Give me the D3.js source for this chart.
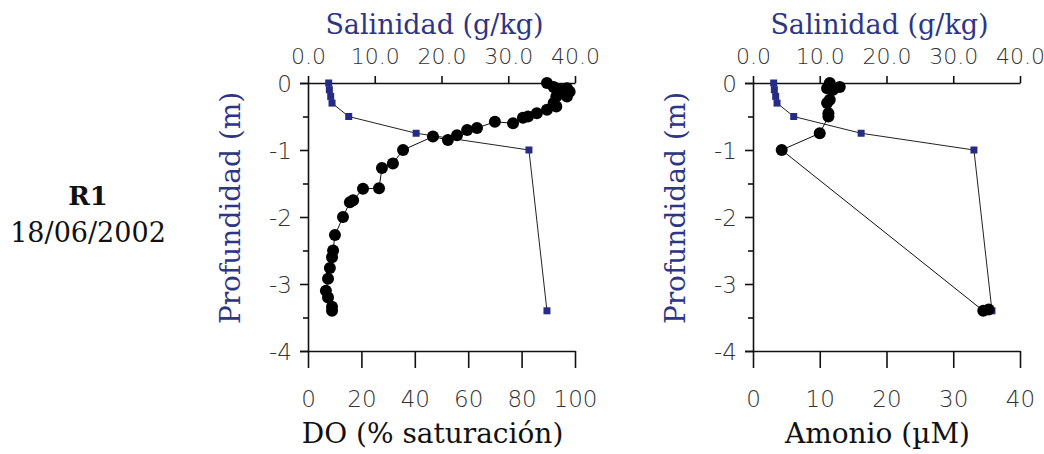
<!DOCTYPE html>
<html><head><meta charset="utf-8">
<script src="https://cdn.jsdelivr.net/npm/d3@7"></script>
<style>
html,body{margin:0;padding:0;background:#fff;}
svg{display:block;}
</style></head>
<body>
<svg id="chart" width="1044" height="454"></svg>
<script>
// ---- data ----
const stationLabel = "R1";
const dateLabel = "18/06/2002";
const salTitle = "Salinidad (g/kg)";
const depthTitle = "Profundidad (m)";
const doTitle = "DO (% saturación)";
const amTitle = "Amonio (µM)";

const salTicks = [0, 10, 20, 30, 40];
const doTicks = [0, 20, 40, 60, 80, 100];
const amTicks = [0, 10, 20, 30, 40];
const depthTicks = [0, -0.5, -1, -1.5, -2, -2.5, -3, -3.5, -4];

// salinity profile (same station, both panels)
const salDepth  = [0, -0.1, -0.2, -0.3, -0.5, -0.75, -1.0, -3.4];
const salValues = [3.1, 3.2, 3.4, 3.6, 6.1, 16.2, 33.1, 35.8];

// dissolved oxygen profile
const doDepth  = [0, -0.06, -0.1, -0.08, -0.13, -0.2, -0.2, -0.3, -0.35, -0.4, -0.45, -0.5, -0.52, -0.6, -0.58, -0.67, -0.7, -0.78, -0.85, -0.8, -1.0, -1.2, -1.27, -1.57, -1.58, -1.75, -1.78, -2.0, -2.27, -2.5, -2.6, -2.76, -2.92, -3.1, -3.2, -3.34, -3.4];
const doValues = [89.5, 92, 94.4, 97, 98, 97, 93, 92, 93, 89.5, 85.7, 82.4, 80.5, 76.8, 70, 63.3, 59.6, 55.8, 52.4, 46.8, 35.6, 31.8, 27.7, 26.6, 20.6, 16.9, 15.7, 13.1, 10.1, 9.4, 9.0, 8.2, 7.5, 6.7, 7.5, 9.0, 9.0];

// ammonium profile
const amDepth  = [0, -0.06, -0.1, -0.08, -0.25, -0.3, -0.45, -0.5, -0.75, -1.0, -3.4, -3.38];
const amValues = [11.5, 13.0, 12.0, 11.1, 11.5, 11.1, 11.3, 11.3, 10.0, 4.3, 34.5, 35.3];

// ---- drawing ----
const svg = d3.select("#chart");
const BLUE = "#2d3585";
const SERIF = "'DejaVu Serif', serif";
const SANS = "'DejaVu Sans', sans-serif";

svg.append("text").attr("x", 88).attr("y", 205).attr("text-anchor", "middle")
  .attr("font-family", SERIF).attr("font-weight", "bold").attr("font-size", 26)
  .attr("fill", "#111").text(stationLabel);
svg.append("text").attr("x", 88).attr("y", 242).attr("text-anchor", "middle")
  .attr("font-family", SERIF).attr("font-size", 27)
  .attr("fill", "#111").text(dateLabel);

function panel(x0, xMax, xTicks, depth, vals, xTitle) {
  const W = 267;
  const y = d3.scaleLinear().domain([0, -4]).range([83, 351]);
  const x = d3.scaleLinear().domain([0, xMax]).range([x0, x0 + W]);
  const xs = d3.scaleLinear().domain([0, 40]).range([x0, x0 + W]);
  const g = svg.append("g");

  // bottom axis
  const gb = g.append("g").attr("transform", `translate(0,${y(-4)})`)
    .call(d3.axisBottom(x).tickValues(xTicks).tickSize(17).tickSizeOuter(0).tickFormat(d => String(d)));
  gb.selectAll("text").attr("y", 56).attr("dy", null);

  // top axis (salinity)
  const gt = g.append("g").attr("transform", `translate(0,${y(0)})`)
    .call(d3.axisTop(xs).tickValues(salTicks).tickSize(7).tickSizeOuter(0).tickFormat(d3.format(".1f")));
  gt.selectAll("text").attr("y", -19).attr("dy", null);

  // left axis
  const gl = g.append("g").attr("transform", `translate(${x0},0)`)
    .call(d3.axisLeft(y).tickValues(depthTicks).tickSizeOuter(0)
      .tickSize(8).tickFormat(d => Number.isInteger(d) ? String(d) : ""));
  gl.selectAll(".tick line").attr("x2", d => Number.isInteger(d) ? -8 : -5);
  gl.selectAll("text").attr("x", -16).attr("dy", "0.36em");

  [gb, gt, gl].forEach(a => {
    a.selectAll("path,line").attr("stroke", "#111").attr("stroke-width", 1.6);
    a.selectAll("text").attr("font-family", SANS).attr("font-size", 23)
      .attr("font-weight", 200).attr("fill", "#333");
  });
  gt.selectAll("text").attr("font-size", 22);

  // titles
  g.append("text").attr("x", x0 + W / 2 - 7).attr("y", 34).attr("text-anchor", "middle")
    .attr("font-family", SERIF).attr("font-size", 27).attr("fill", BLUE).text(salTitle);
  g.append("text").attr("x", x0 + W / 2 - 9).attr("y", 443).attr("text-anchor", "middle")
    .attr("font-family", SERIF).attr("font-size", 28).attr("fill", "#111").text(xTitle);
  g.append("text").attr("transform", `translate(${x0 - 68},${208}) rotate(-90)`)
    .attr("text-anchor", "middle")
    .attr("font-family", SERIF).attr("font-size", 28).attr("fill", BLUE).text(depthTitle);

  // salinity series
  const salIdx = d3.range(salDepth.length);
  g.append("path").datum(salIdx)
    .attr("d", d3.line().x(i => xs(salValues[i])).y(i => y(salDepth[i])))
    .attr("fill", "none").attr("stroke", "#222").attr("stroke-width", 1);
  g.selectAll(".sq").data(salIdx).join("rect")
    .attr("x", i => xs(salValues[i]) - 3.5).attr("y", i => y(salDepth[i]) - 3.5)
    .attr("width", 7).attr("height", 7).attr("fill", "#262c86");

  // main series
  const idx = d3.range(depth.length);
  g.append("path").datum(idx)
    .attr("d", d3.line().x(i => x(vals[i])).y(i => y(depth[i])))
    .attr("fill", "none").attr("stroke", "#111").attr("stroke-width", 1);
  g.selectAll(".pt").data(idx).join("circle")
    .attr("cx", i => x(vals[i])).attr("cy", i => y(depth[i])).attr("r", 6)
    .attr("fill", "#000");
}

panel(308, 100, doTicks, doDepth, doValues, doTitle);
panel(753, 40, amTicks, amDepth, amValues, amTitle);
</script>
</body></html>
